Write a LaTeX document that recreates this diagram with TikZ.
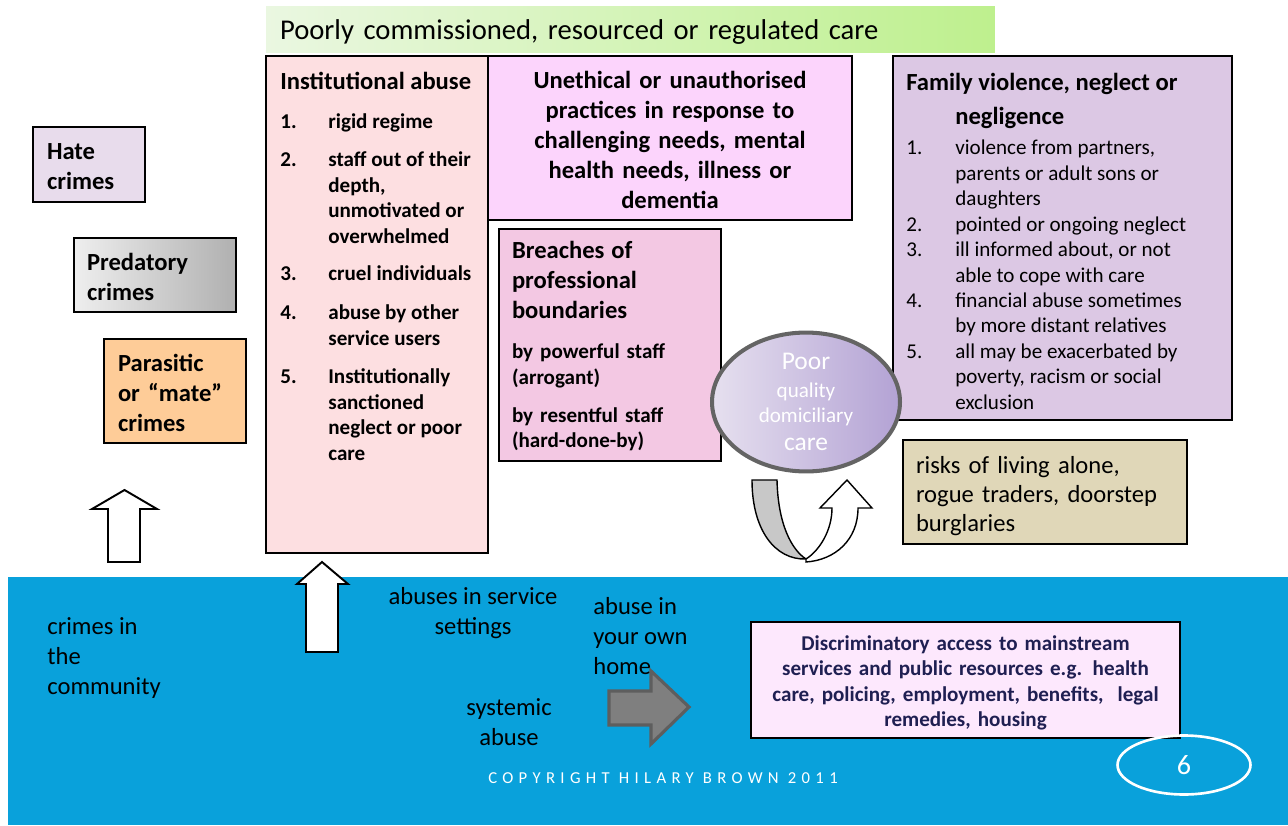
\documentclass[tikz,border=0pt]{standalone}
\usepackage{fontspec}
\setmainfont{Carlito}
\usetikzlibrary{shapes.geometric}
\definecolor{barleft}{HTML}{EAF7E1}
\definecolor{barright}{HTML}{BEF08E}
\definecolor{instpink}{HTML}{FDDFE1}
\definecolor{unethpink}{HTML}{FCD4FC}
\definecolor{breachpink}{HTML}{F3C8E3}
\definecolor{familylilac}{HTML}{DCC8E4}
\definecolor{riskstan}{HTML}{E0D7B8}
\definecolor{hatelilac}{HTML}{E8DCEC}
\definecolor{mateorange}{HTML}{FECC98}
\definecolor{bandblue}{HTML}{09A1DB}
\definecolor{discpink}{HTML}{FDE8FD}
\definecolor{navytext}{HTML}{1F1F52}
\definecolor{ringgray}{HTML}{646464}
\definecolor{poorleft}{HTML}{E6E0EF}
\definecolor{poorright}{HTML}{B3A2D4}
\definecolor{arrowgray}{HTML}{7F7F7F}
\definecolor{arrowedge}{HTML}{5E5E5E}
\definecolor{uturngray}{HTML}{C8C8C8}
\newcommand{\fsz}[2]{\fontsize{#1}{#2}\selectfont}
\newcommand{\bigsz}{\fsz{14}{17}}
\begin{document}
\begin{tikzpicture}[x=0.02cm,y=-0.02cm,every node/.style={inner sep=0pt},
  box/.style={draw=black,line width=1.1pt,inner xsep=0.26cm,align=left},
  heading/.style={font=\fsz{14}{17}\bfseries},
  plain/.style={font=\fsz{14}{17}},
  blockarrow/.style={draw=black,line width=1.1pt,fill=white,line join=miter}]
\useasboundingbox (0,0) rectangle (1288,825);
\node[box,draw=none,left color=barleft,right color=barright,minimum width=14.58cm,minimum height=0.94cm,text width=14.02cm,inner xsep=0.28cm,text depth=-2pt,font=\fsz{16.3}{19}] (bar) at (630.5,29.5) {Poorly commissioned, resourced or regulated care};
\node[box,fill=instpink,minimum width=4.44cm,minimum height=9.94cm] (inst) at (377,304.5) {};
\node[anchor=base west,font=\fsz{12}{14.5}\bfseries] (instlist) at (280,89) {\begin{tabular}[t]{@{}p{0.96cm}@{}l@{}}
\multicolumn{2}{@{}l@{}}{\bigsz Institutional abuse}\\[8.2pt]
1. & rigid regime\\[7pt]
2. & staff out of their\\
   & depth,\\
   & unmotivated or\\
   & overwhelmed\\[7pt]
3. & cruel individuals\\[7.6pt]
4. & abuse by other\\
   & service users\\[7.6pt]
5. & Institutionally\\
   & sanctioned\\
   & neglect or poor\\
   & care
\end{tabular}};
\node[box,fill=unethpink,minimum width=7.28cm,minimum height=3.28cm,text width=6.88cm,inner xsep=0.2cm,align=center,text depth=65.7pt,heading] (uneth) at (670,138) {Unethical or unauthorised\\practices in response to\\challenging needs, mental\\health needs, illness or\\dementia};
\node[box,fill=breachpink,minimum width=4.44cm,minimum height=4.64cm,text width=3.92cm,text depth=108.4pt,font=\fsz{12}{14.5}\bfseries] (breach) at (610,345) {{\bigsz Breaches of}\\[2.5pt]{\bigsz professional}\\[2.5pt]{\bigsz boundaries}\\[8.7pt]by powerful staff\\(arrogant)\\[7pt]by resentful staff\\(hard-done-by)};
\node[box,fill=familylilac,minimum width=6.78cm,minimum height=7.28cm] (family) at (1062.5,238) {};
\node[anchor=base west,font=\fsz{12}{14.5}] (familylist) at (906,90) {\begin{tabular}[t]{@{}p{0.98cm}@{}l@{}}
\multicolumn{2}{@{}l@{}}{\bigsz\bfseries Family violence, neglect or}\\[5.3pt]
   & {\bigsz\bfseries negligence}\\[2.5pt]
1. & violence from partners,\\
   & parents or adult sons or\\
   & daughters\\
2. & pointed or ongoing neglect\\
3. & ill informed about, or not\\
   & able to cope with care\\
4. & financial abuse sometimes\\
   & by more distant relatives\\
5. & all may be exacerbated by\\
   & poverty, racism or social\\
   & exclusion
\end{tabular}};
\node[box,fill=riskstan,minimum width=5.68cm,minimum height=2.08cm,text width=5.16cm,text depth=31.3pt,font=\fsz{14}{16.5}] (risks) at (1045,492) {risks of living alone,\\rogue traders, doorstep\\burglaries};
\node[box,fill=hatelilac,minimum width=2.24cm,minimum height=1.5cm,text width=1.68cm,inner xsep=0.28cm,text depth=14.7pt,heading] (hate) at (89,164.5) {Hate\\crimes};
\node[box,left color=gray!13,right color=gray!62,minimum width=3.24cm,minimum height=1.48cm,text width=2.72cm,text depth=14.7pt,heading] (pred) at (155,275) {Predatory\\crimes};
\node[box,fill=mateorange,minimum width=2.84cm,minimum height=2.08cm,text width=2.28cm,inner xsep=0.28cm,text depth=31.7pt,heading] (mate) at (175,391) {Parasitic\\or ``mate''\\crimes};
\fill[bandblue] (8,577) rectangle (1288,825);
\node[anchor=west,align=left,plain] (community) at (47,658) {crimes in\\the\\community};
\node[align=center,plain] (settings) at (473,613) {abuses in service\\settings};
\node[anchor=west,align=left,plain] (ownhome) at (593,636) {abuse in\\your own\\home};
\node[align=center,plain] (systemic) at (509,722) {systemic\\abuse};
\node[box,fill=discpink,minimum width=8.58cm,minimum height=2.32cm,text width=8.18cm,inner xsep=0.2cm,align=center,text=navytext,text depth=42.5pt,font=\fsz{12}{14.5}\bfseries] (discr) at (965.5,680) {Discriminatory access to mainstream\\services and public resources e.g. health\\care, policing, employment, benefits,\ \ legal\\remedies, housing};
\node[text=white,font=\fsz{9.5}{11}\addfontfeatures{LetterSpace=32}] (copy) at (663,778) {COPYRIGHT HILARY BROWN 2011};
\node[ellipse,draw=white,line width=1.5pt,minimum width=2.66cm,minimum height=1.18cm,text=white,font=\fsz{16}{19}] (page) at (1184,765) {6};
\draw[blockarrow] (108,562) -- (108,509) -- (92,509) -- (124.5,490) -- (157,509) -- (140,509) -- (140,562) -- cycle;
\draw[blockarrow] (306,652) -- (306,584) -- (297,584) -- (322,562) -- (348,584) -- (338,584) -- (338,652) -- cycle;
\draw[fill=arrowgray,draw=arrowedge,line width=1.8pt,line join=miter] (609,691) -- (651,691) -- (651,671) -- (689,707) -- (651,744) -- (651,725) -- (609,725) -- cycle;
\draw[line width=0.8pt,fill=uturngray] (752,480) -- (777,480) .. controls (778,525) and (792,550) .. (806,559) .. controls (775,560) and (752,530) .. (752,480) -- cycle;
\draw[line width=0.8pt,fill=white] (806,562) .. controls (835,560) and (858,540) .. (858,508) -- (872,508) -- (847,480) -- (820,508) -- (832,508) .. controls (832,530) and (820,550) .. (806,559) -- cycle;
\node[ellipse,draw=ringgray,line width=2.3pt,left color=poorleft,right color=poorright,minimum width=3.76cm,minimum height=2.4cm,align=center,text=white,font=\fsz{12}{14.5}] (poor) at (806,402) {{\fsz{14.5}{17}Poor}\\[1.5pt]quality\\domiciliary\\[1.5pt]{\fsz{14.5}{17}care}};
\end{tikzpicture}
\end{document}
